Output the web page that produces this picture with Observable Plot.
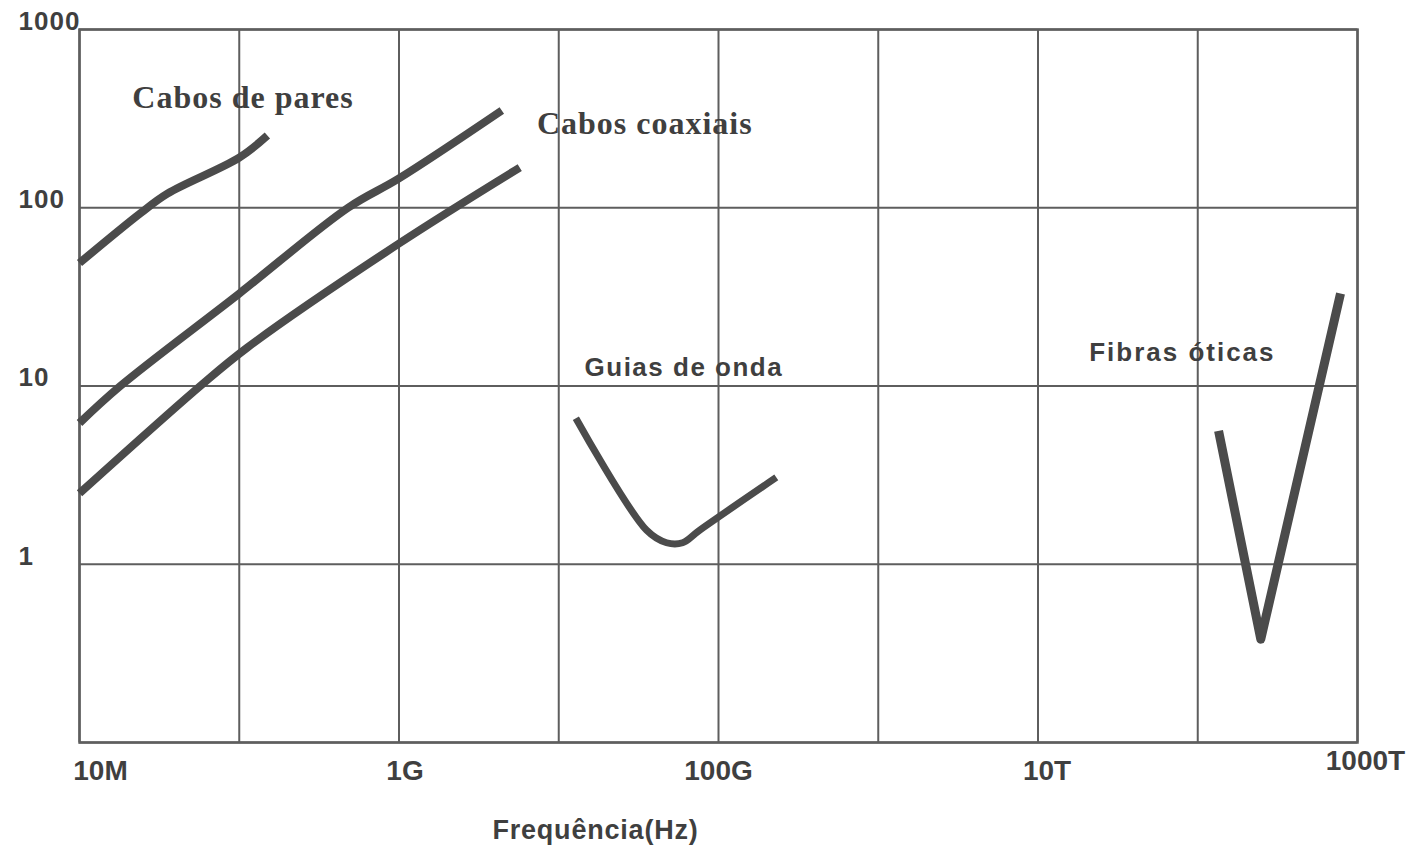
<!DOCTYPE html>
<html>
<head>
<meta charset="utf-8">
<script src="https://cdn.jsdelivr.net/npm/d3@7"></script>
<script src="https://cdn.jsdelivr.net/npm/@observablehq/plot@0.6"></script>
<style>
  html, body { margin: 0; padding: 0; background: #ffffff; }
  #chart svg { display: block; }
</style>
</head>
<body>
<div id="chart"></div>
<script>
// ---- Data ----
// Frequency in Hz, attenuation (dB/km) on log scales
const paresFreq = [1e7, 2.4e7, 3.55e7, 1.0e8, 1.5e8];
const paresAtt  = [49, 93, 120, 191, 254];

const coaxUpperFreq = [1e7, 1.8e7, 1e8, 4.8e8, 1e9, 4.4e9];
const coaxUpperAtt  = [6.2, 10, 33, 100, 146, 351];

const coaxLowerFreq = [1e7, 5.7e7, 1.12e8, 1e9, 5.7e9];
const coaxLowerAtt  = [2.5, 10, 16.4, 63, 168];

const guiaFreq = [1.28e10, 3.55e10, 4.73e10, 5.96e10, 7.6e10, 2.3e11];
const guiaAtt  = [6.6, 1.55, 1.32, 1.32, 1.55, 3.07];

const fibraFreq = [1.35e14, 2.48e14, 7.83e14];
const fibraAtt  = [5.6, 0.38, 33];

const xGridValues = [1e7, 1e8, 1e9, 1e10, 1e11, 1e12, 1e13, 1e14, 1e15];
const yGridValues = [0.1, 1, 10, 100, 1000];

const xTickValues = [1e7, 1e9, 1e11, 1e13, 1e15];
const xTickLabels = ["10M", "1G", "100G", "10T", "1000T"];

const yTickValues = [1000, 100, 10, 1];
const yTickLabels = ["1000", "100", "10", "1"];

const serifLabelText = ["Cabos de pares", "Cabos coaxiais"];
const serifLabelFreq = [2.14e7, 7.3e9];
const serifLabelAtt  = [415, 297];

const sansLabelText = ["Guias de onda", "Fibras óticas"];
const sansLabelFreq = [1.45e10, 2.09e13];
const sansLabelAtt  = [12.7, 15.4];

const xAxisLabel = "Frequência(Hz)";

// ---- Build tables ----
const toRows = (fx, fy) => fx.map((f, i) => ({f, a: fy[i]}));
const pares = toRows(paresFreq, paresAtt);
const coaxU = toRows(coaxUpperFreq, coaxUpperAtt);
const coaxL = toRows(coaxLowerFreq, coaxLowerAtt);
const guia = toRows(guiaFreq, guiaAtt);
const fibra = toRows(fibraFreq, fibraAtt);
const serifLabels = serifLabelText.map((t, i) => ({t, f: serifLabelFreq[i], a: serifLabelAtt[i]}));
const sansLabels = sansLabelText.map((t, i) => ({t, f: sansLabelFreq[i], a: sansLabelAtt[i]}));

const curveColor = "#4b4b4b";
const gridColor = "#5e5e5e";
const textColor = "#3f3f3f";
const tickFont = "'Liberation Sans', Arial, sans-serif";

// per-label placement tweaks for x tick labels (layout only)
const xLabelDx = {"10M": 21, "1G": 6, "100G": 0, "10T": 9, "1000T": 8};
const xLabelDy = {"10M": 37, "1G": 37, "100G": 37, "10T": 37, "1000T": 27};

const xTickMarks = xTickValues.map((v, i) => Plot.text([v], {
  x: d => d,
  frameAnchor: "bottom",
  text: () => xTickLabels[i],
  dx: xLabelDx[xTickLabels[i]],
  dy: xLabelDy[xTickLabels[i]],
  fontSize: 28,
  fontWeight: "bold",
  fontFamily: tickFont,
  fill: textColor
}));

const chart = Plot.plot({
  width: 1412,
  height: 848,
  marginLeft: 79,
  marginRight: 55,
  marginTop: 29,
  marginBottom: 106,
  style: {background: "#ffffff"},
  x: {type: "log", domain: [1e7, 1e15], axis: null},
  y: {type: "log", domain: [0.1, 1000], axis: null},
  marks: [
    Plot.gridX(xGridValues, {stroke: gridColor, strokeOpacity: 1, strokeWidth: 2}),
    Plot.gridY(yGridValues, {stroke: gridColor, strokeOpacity: 1, strokeWidth: 2}),
    Plot.frame({stroke: gridColor, strokeWidth: 2.5}),
    Plot.line(pares, {x: "f", y: "a", stroke: curveColor, strokeWidth: 8, strokeLinecap: "butt", curve: "catmull-rom"}),
    Plot.line(coaxU, {x: "f", y: "a", stroke: curveColor, strokeWidth: 8, strokeLinecap: "butt", curve: "catmull-rom"}),
    Plot.line(coaxL, {x: "f", y: "a", stroke: curveColor, strokeWidth: 8, strokeLinecap: "butt", curve: "catmull-rom"}),
    Plot.line(guia, {x: "f", y: "a", stroke: curveColor, strokeWidth: 7, strokeLinecap: "butt", curve: "catmull-rom"}),
    Plot.line(fibra, {x: "f", y: "a", stroke: curveColor, strokeWidth: 9, strokeLinecap: "butt"}),
    ...xTickMarks,
    Plot.text(yTickValues, {
      y: d => d,
      frameAnchor: "left",
      text: (d, i) => yTickLabels[i],
      textAnchor: "start",
      dx: -61,
      dy: -8,
      fontSize: 26,
      fontWeight: "bold",
      fontFamily: tickFont,
      fill: textColor
    }),
    Plot.text(serifLabels, {
      x: "f", y: "a", text: "t",
      textAnchor: "start",
      fontSize: 32,
      fontWeight: "bold",
      fontFamily: "'Liberation Serif', 'Times New Roman', serif",
      fill: textColor
    }),
    Plot.text(sansLabels, {
      x: "f", y: "a", text: "t",
      textAnchor: "start",
      fontSize: 26,
      fontWeight: "bold",
      fontFamily: tickFont,
      fill: textColor
    }),
    Plot.text([xAxisLabel], {
      frameAnchor: "bottom",
      text: d => d,
      dx: 595 - (79 + 1357) / 2,
      dy: 96,
      fontSize: 27,
      fontWeight: "bold",
      fontFamily: tickFont,
      fill: textColor
    })
  ]
});

// letter spacing to match the wide scanned lettering
const svg = d3.select(chart);
svg.selectAll("text").each(function() {
  const t = d3.select(this).text();
  let ls = 0;
  if (t === "Cabos de pares" || t === "Cabos coaxiais") ls = 1;
  else if (t === "Guias de onda") ls = 1.5;
  else if (t === "Fibras óticas") ls = 2;
  else if (t === xAxisLabel) ls = 0.8;
  else if (yTickLabels.includes(t)) ls = 1;
  if (ls) d3.select(this).style("letter-spacing", ls + "px");
});

document.getElementById("chart").appendChild(chart);
</script>
</body>
</html>
